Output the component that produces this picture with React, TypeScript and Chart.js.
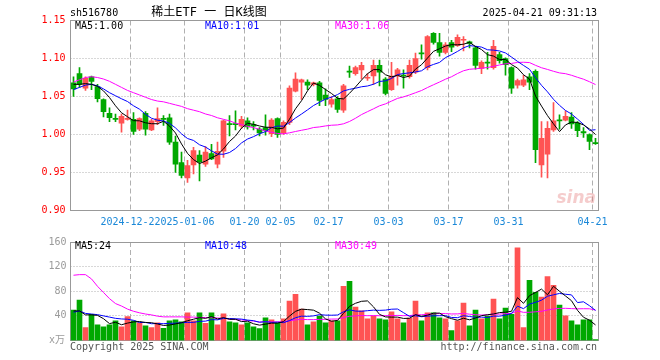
import React, { useEffect, useRef } from 'react';
import { Chart, registerables } from 'chart.js';

Chart.register(...registerables);

// ---------- data ----------
const dates = [
  '2024-12-09','2024-12-10','2024-12-11','2024-12-12','2024-12-13','2024-12-16','2024-12-17','2024-12-18','2024-12-19','2024-12-20',
  '2024-12-23','2024-12-24','2024-12-25','2024-12-26','2024-12-27','2024-12-30','2024-12-31',
  '2025-01-02','2025-01-03','2025-01-06','2025-01-07','2025-01-08','2025-01-09','2025-01-10','2025-01-13','2025-01-14','2025-01-15',
  '2025-01-16','2025-01-17','2025-01-20','2025-01-21','2025-01-22','2025-01-23','2025-01-24','2025-01-27',
  '2025-02-05','2025-02-06','2025-02-07','2025-02-10','2025-02-11','2025-02-12','2025-02-13','2025-02-14','2025-02-17','2025-02-18',
  '2025-02-19','2025-02-20','2025-02-21','2025-02-24','2025-02-25','2025-02-26','2025-02-27','2025-02-28',
  '2025-03-03','2025-03-04','2025-03-05','2025-03-06','2025-03-07','2025-03-10','2025-03-11','2025-03-12','2025-03-13','2025-03-14',
  '2025-03-17','2025-03-18','2025-03-19','2025-03-20','2025-03-21','2025-03-24','2025-03-25','2025-03-26','2025-03-27','2025-03-28','2025-03-31',
  '2025-04-01','2025-04-02','2025-04-03','2025-04-07','2025-04-08','2025-04-09','2025-04-10','2025-04-11','2025-04-14','2025-04-15',
  '2025-04-16','2025-04-17','2025-04-18','2025-04-21',
];

const opens = [
  1.068,1.080,1.061,1.076,1.063,1.046,1.028,1.021,1.015,1.020,
  1.020,1.007,1.028,1.006,1.017,1.021,1.022,0.990,0.963,0.943,
  0.960,0.973,0.961,0.975,0.961,0.978,1.014,1.014,1.011,1.018,
  1.013,1.007,1.009,1.001,1.021,1.002,1.016,1.057,1.069,1.069,
  1.066,1.068,1.052,1.040,1.047,1.032,1.083,1.080,1.085,1.074,
  1.077,1.091,1.073,1.059,1.077,1.078,1.076,1.082,1.107,1.088,
  1.133,1.121,1.108,1.121,1.117,1.124,1.122,1.114,1.087,1.095,
  1.088,1.105,1.100,1.088,1.065,1.065,1.076,1.083,0.960,0.974,
  1.006,1.019,1.019,1.023,1.015,1.004,1.000,0.989,
];
const highs = [
  1.076,1.088,1.076,1.077,1.066,1.047,1.035,1.027,1.027,1.032,
  1.029,1.022,1.030,1.020,1.035,1.025,1.027,0.998,0.977,0.966,
  0.983,0.979,0.984,0.987,0.990,1.019,1.025,1.031,1.024,1.022,
  1.017,1.009,1.026,1.021,1.022,1.018,1.064,1.081,1.073,1.072,
  1.069,1.070,1.060,1.050,1.050,1.066,1.090,1.090,1.095,1.080,
  1.098,1.098,1.075,1.095,1.087,1.085,1.098,1.107,1.118,1.130,
  1.134,1.133,1.121,1.124,1.131,1.129,1.123,1.116,1.097,1.108,
  1.124,1.108,1.101,1.089,1.073,1.078,1.080,1.085,1.017,1.017,
  1.042,1.026,1.031,1.029,1.017,1.009,1.001,0.995,
];
const lows = [
  1.050,1.062,1.058,1.059,1.043,1.023,1.017,1.017,1.003,1.019,
  1.000,1.005,0.999,1.005,1.013,1.012,0.987,0.950,0.943,0.937,
  0.948,0.939,0.958,0.967,0.956,0.970,0.998,1.006,1.008,1.007,
  1.006,0.998,0.999,0.997,0.996,1.000,1.013,1.056,1.046,1.059,
  1.064,1.038,1.038,1.036,1.029,1.029,1.075,1.078,1.073,1.071,
  1.066,1.064,1.052,1.058,1.065,1.061,1.074,1.080,1.099,1.085,
  1.119,1.103,1.106,1.109,1.116,1.110,1.114,1.086,1.080,1.086,
  1.086,1.094,1.078,1.054,1.061,1.063,1.059,0.963,0.944,0.943,
  1.004,1.007,1.018,1.008,0.997,0.996,0.980,0.987,
];
const closes = [
  1.060,1.066,1.074,1.070,1.047,1.030,1.022,1.020,1.024,1.021,
  1.004,1.021,1.007,1.018,1.021,1.020,0.990,0.961,0.946,0.959,
  0.979,0.964,0.977,0.968,0.978,1.018,1.013,1.013,1.020,1.010,
  1.011,1.002,1.005,1.019,1.000,1.016,1.061,1.073,1.072,1.065,
  1.068,1.045,1.046,1.046,1.033,1.064,1.082,1.088,1.091,1.075,
  1.091,1.082,1.054,1.077,1.085,1.077,1.091,1.100,1.106,1.129,
  1.121,1.108,1.118,1.115,1.128,1.125,1.120,1.091,1.095,1.094,
  1.116,1.097,1.092,1.061,1.071,1.072,1.069,0.980,0.995,1.008,
  1.018,1.018,1.024,1.014,1.005,1.002,0.991,0.988,
];
// volume in 万
const volumes = [
  49.6,65.6,20.8,42.7,25.6,22.4,25.6,32,22.4,38.9,
  32,28.8,24,20.8,28.8,19.7,32,33.6,30.4,44.8,
  32,44.8,27.7,44.8,25.6,43.2,30.4,28.8,25.6,28.8,
  22.4,19.2,36.8,33.6,28.8,35.2,64,75.2,51.2,25.6,
  30.4,39.5,28.8,32,32,88,96,54.4,48,35.2,
  39.5,35.2,33.6,46.4,35.2,28.8,36.3,64,32,44.8,
  44.8,36.8,35.2,16,32,60.8,24,49.6,35.2,39.5,
  67.2,35.2,52.8,42.7,150.4,20.8,97.6,78.4,70.4,104,
  89.6,57.6,40,32,25.6,33.6,33.6,1.6,
];

const ma5Lead = [1.066, 1.066, 1.067, 1.066];
const ma10Lead = [1.059, 1.062, 1.065, 1.066, 1.064, 1.060, 1.055, 1.051, 1.047];
const ma30Lead = [
  1.069,1.072,1.075,1.076,1.075,1.073,1.070,1.066,1.062,1.058,
  1.055,1.052,1.049,1.046,1.044,1.043,1.041,1.039,1.037,1.034,
  1.032,1.030,1.027,1.025,1.022,1.020,1.018,1.015,1.013,
];
const volMa5Lead = [48, 48, 41.6, 41.6];
const volMa10Lead = [46, 48, 44, 43, 42, 40, 38, 36, 35];
const volMa30Lead = [
  106,107,107,100,88,78,68,60,56,51,
  47.5,45,43,41.6,39.5,38.4,38.4,38.4,38.4,38,
  38,37.5,37.3,37,36.5,36,35,34,33.5,
];

const priceTicks = [0.9, 0.95, 1.0, 1.05, 1.1, 1.15];
const volumeTicks = [0, 40, 80, 120, 160];
const xTickDates = ['2024-12-23','2025-01-06','2025-01-20','2025-02-05','2025-02-17','2025-03-03','2025-03-17','2025-03-31','2025-04-21'];
const xTickTexts = ['2024-12-23','2025-01-06','01-20','02-05','02-17','03-03','03-17','03-31','04-21'];

const symbolText = 'sh516780';
const titleText = '稀土ETF 一 日K线图';
const timeText = '2025-04-21 09:31:13';
const priceMaLabels = ['MA5:1.00', 'MA10:1.01', 'MA30:1.06'];
const volumeMaLabels = ['MA5:24', 'MA10:48', 'MA30:49'];
const volumeUnitText = 'x万';
const copyrightText = 'Copyright 2025 SINA.COM';
const urlText = 'http://finance.sina.com.cn';
const watermarkText = 'sina';

// ---------- styles ----------
const RED = '#ff5353';
const GREEN = '#00a800';
const MA_COLORS = ['#000000', '#0000ff', '#ff00ff'];
const MONO = "'DejaVu Sans Mono', monospace";
const LABEL_X = [75, 205, 335];

function movingAverage(values: number[], n: number, lead: number[]) {
  return values.map((_, i) => {
    if (i < n - 1) return lead[i];
    let s = 0;
    for (let k = i - n + 1; k <= i; k++) s += values[k];
    return s / n;
  });
}

const candleColors = closes.map((c, i) => (c >= opens[i] ? RED : GREEN));

function xTickText(i: number) {
  const k = xTickDates.indexOf(dates[i]);
  return k >= 0 ? xTickTexts[k] : '';
}

function drawGridFrame(chart: any, ticks: number[]) {
  const { ctx, chartArea: a, scales } = chart;
  const xs = scales.x;
  const ys = scales.y;
  ctx.save();
  ctx.lineWidth = 1;
  ctx.strokeStyle = '#b0b0b0';
  ctx.setLineDash([1, 2]);
  ticks.forEach((v) => {
    const py = Math.floor(ys.getPixelForValue(v)) + 0.5;
    if (py <= a.top + 1 || py >= a.bottom - 1) return;
    ctx.beginPath();
    ctx.moveTo(a.left, py);
    ctx.lineTo(a.right, py);
    ctx.stroke();
  });
  ctx.setLineDash([5, 3]);
  xTickDates.forEach((d) => {
    const i = dates.indexOf(d);
    const px = Math.floor(xs.getPixelForValue(i) - 3) + 0.5;
    ctx.beginPath();
    ctx.moveTo(px, a.top);
    ctx.lineTo(px, a.bottom);
    ctx.stroke();
  });
  ctx.setLineDash([]);
  ctx.strokeStyle = '#999999';
  const l = Math.floor(a.left) + 0.5;
  const t = Math.floor(a.top) + 0.5;
  const r = Math.floor(a.right) + 0.5;
  const b = Math.floor(a.bottom) + 0.5;
  ctx.strokeRect(l, t, r - l, b - t);
  ctx.restore();
}

function drawMaLabels(ctx: CanvasRenderingContext2D, labels: string[], y: number) {
  ctx.font = `10px ${MONO}`;
  ctx.textBaseline = 'middle';
  ctx.textAlign = 'left';
  labels.forEach((t, k) => {
    ctx.fillStyle = MA_COLORS[k];
    ctx.fillText(t, LABEL_X[k], y);
  });
}

const pricePlugin = {
  id: 'priceDecor',
  beforeDatasetsDraw(chart: any) {
    drawGridFrame(chart, priceTicks);
    const { ctx } = chart;
    ctx.save();
    ctx.font = "italic bold 17px 'DejaVu Sans', sans-serif";
    ctx.fillStyle = 'rgba(225,110,110,0.35)';
    ctx.textAlign = 'right';
    ctx.textBaseline = 'middle';
    ctx.fillText(watermarkText, 596, 199);
    ctx.restore();
  },
  afterDraw(chart: any) {
    const { ctx } = chart;
    ctx.save();
    ctx.fillStyle = '#000';
    ctx.font = `10px ${MONO}`;
    ctx.textBaseline = 'middle';
    ctx.textAlign = 'left';
    ctx.fillText(symbolText, 70, 13);
    ctx.textAlign = 'right';
    ctx.fillText(timeText, 597, 13);
    ctx.font = `12px 'DejaVu Sans Mono', 'Noto Sans CJK SC', sans-serif`;
    ctx.textAlign = 'center';
    ctx.fillText(titleText, 209, 13);
    drawMaLabels(ctx, priceMaLabels, 26);
    ctx.restore();
  },
};

const volumePlugin = {
  id: 'volumeDecor',
  beforeDatasetsDraw(chart: any) {
    drawGridFrame(chart, volumeTicks);
  },
  afterDraw(chart: any) {
    const { ctx } = chart;
    ctx.save();
    drawMaLabels(ctx, volumeMaLabels, 14);
    ctx.font = `10px 'DejaVu Sans Mono', 'Noto Sans CJK SC', monospace`;
    ctx.fillStyle = '#9a9a9a';
    ctx.textAlign = 'right';
    ctx.textBaseline = 'middle';
    ctx.fillText(volumeUnitText, 65, 108);
    ctx.fillStyle = '#555';
    ctx.font = `10px ${MONO}`;
    ctx.textAlign = 'left';
    ctx.fillText(copyrightText, 70, 115);
    ctx.textAlign = 'right';
    ctx.fillText(urlText, 597, 115);
    ctx.restore();
  },
};

function lineDs(label: string, data: number[], color: string) {
  return {
    type: 'line' as const,
    label,
    data,
    borderColor: color,
    backgroundColor: color,
    borderWidth: 1,
    pointRadius: 0,
    tension: 0,
    order: 0,
  };
}

export default function App() {
  const priceRef = useRef<HTMLCanvasElement>(null);
  const volRef = useRef<HTMLCanvasElement>(null);

  useEffect(() => {
    document.body.style.margin = '0';
    const ma5 = movingAverage(closes, 5, ma5Lead);
    const ma10 = movingAverage(closes, 10, ma10Lead);
    const ma30 = movingAverage(closes, 30, ma30Lead);
    const vma5 = movingAverage(volumes, 5, volMa5Lead);
    const vma10 = movingAverage(volumes, 10, volMa10Lead);
    const vma30 = movingAverage(volumes, 30, volMa30Lead);

    const priceChart = new Chart(priceRef.current as HTMLCanvasElement, {
      type: 'bar',
      data: {
        labels: dates,
        datasets: [
          lineDs('MA5', ma5, MA_COLORS[0]),
          lineDs('MA10', ma10, MA_COLORS[1]),
          lineDs('MA30', ma30, MA_COLORS[2]),
          {
            type: 'bar',
            label: 'body',
            data: opens.map((o, i) => [Math.min(o, closes[i]), Math.max(o, closes[i])]),
            backgroundColor: candleColors,
            barThickness: 5,
            minBarLength: 1,
            grouped: false,
            borderWidth: 0,
            order: 1,
          },
          {
            type: 'bar',
            label: 'wick',
            data: lows.map((l, i) => [l, highs[i]]),
            backgroundColor: candleColors,
            barThickness: 1,
            grouped: false,
            borderWidth: 0,
            order: 2,
          },
        ] as any,
      },
      options: {
        responsive: false,
        animation: false,
        layout: { padding: { left: 8.5, right: 61.5, top: 20.5, bottom: 1.5 } },
        plugins: { legend: { display: false }, tooltip: { enabled: false } },
        scales: {
          x: {
            type: 'category',
            offset: true,
            grid: { display: false, drawTicks: false },
            border: { display: false },
            ticks: {
              autoSkip: false,
              maxRotation: 0,
              minRotation: 0,
              padding: 6,
              labelOffset: -3,
              color: '#1a88d8',
              font: { family: MONO, size: 10 },
              showLabelBackdrop: true,
              backdropColor: '#ffffff',
              backdropPadding: 0,
              callback: (_v: any, i: number) => xTickText(i),
            },
            afterFit: (s: any) => { s.height = 20; },
          },
          y: {
            type: 'linear',
            min: 0.9,
            max: 1.15,
            afterBuildTicks: (s: any) => { s.ticks = priceTicks.map((v) => ({ value: v })); },
            grid: { display: false, drawTicks: false },
            border: { display: false },
            ticks: {
              color: '#ff0000',
              padding: 5,
              font: { family: MONO, size: 10 },
              callback: (v: any) => Number(v).toFixed(2),
            },
            afterFit: (s: any) => { s.width = 62; },
          },
        },
      } as any,
      plugins: [pricePlugin],
    });

    const volChart = new Chart(volRef.current as HTMLCanvasElement, {
      type: 'bar',
      data: {
        labels: dates,
        datasets: [
          lineDs('MA5', vma5, MA_COLORS[0]),
          lineDs('MA10', vma10, MA_COLORS[1]),
          lineDs('MA30', vma30, MA_COLORS[2]),
          {
            type: 'bar',
            label: 'volume',
            data: volumes,
            backgroundColor: candleColors,
            barThickness: 5,
            borderWidth: 0,
            order: 1,
          },
        ] as any,
      },
      options: {
        responsive: false,
        animation: false,
        layout: { padding: { left: 8.5, right: 61.5, top: 8.5, bottom: 19.5 } },
        plugins: { legend: { display: false }, tooltip: { enabled: false } },
        scales: {
          x: {
            type: 'category',
            offset: true,
            display: false,
            grid: { display: false },
          },
          y: {
            type: 'linear',
            min: 0,
            max: 160,
            afterBuildTicks: (s: any) => { s.ticks = volumeTicks.map((v) => ({ value: v })); },
            grid: { display: false, drawTicks: false },
            border: { display: false },
            ticks: {
              color: '#9a9a9a',
              padding: 4,
              font: { family: MONO, size: 10 },
              callback: (v: any) => (Number(v) === 0 ? '' : String(v)),
            },
            afterFit: (s: any) => { s.width = 62; },
          },
        },
      } as any,
      plugins: [volumePlugin],
    });

    return () => {
      priceChart.destroy();
      volChart.destroy();
    };
  }, []);

  return (
    <div style={{ position: 'absolute', left: 0, top: 0, width: 660, height: 360, background: '#ffffff' }}>
      <canvas ref={priceRef} width={660} height={232} style={{ position: 'absolute', left: 0, top: 0, display: 'block' }} />
      <canvas ref={volRef} width={660} height={128} style={{ position: 'absolute', left: 0, top: 232, display: 'block' }} />
    </div>
  );
}
